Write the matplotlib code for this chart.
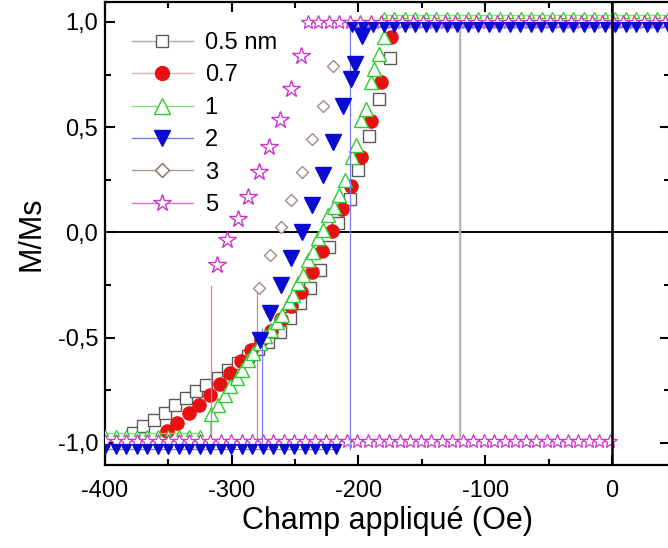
import numpy as np
import matplotlib
matplotlib.use('Agg')
import matplotlib.pyplot as plt
from matplotlib.lines import Line2D
from matplotlib.ticker import MultipleLocator, FuncFormatter

plt.rcParams['font.family'] = ['Liberation Sans', 'DejaVu Sans']

labels = ['0.5 nm', '0.7', '1', '2', '3', '5']

# ---- ascending-branch data (field in Oe, M/Ms) ----
sq_x = [-378, -370, -361, -353, -345, -336, -328, -320, -311, -303, -295, -287, -279,
        -271, -262, -254, -246, -238, -230, -223, -216, -207, -200, -192, -184, -175]
sq_y = [-0.953, -0.921, -0.889, -0.858, -0.818, -0.787, -0.755, -0.724, -0.692, -0.653,
        -0.621, -0.589, -0.555, -0.52, -0.471, -0.408, -0.336, -0.265, -0.178, -0.068,
        0.043, 0.161, 0.299, 0.456, 0.632, 0.829]

ci_x = [-351, -343, -334, -326, -317, -309, -301, -293, -285, -277, -269, -261, -253,
        -245, -237, -229, -221, -213, -206, -198, -190, -182, -174]
ci_y = [-0.945, -0.905, -0.860, -0.818, -0.771, -0.722, -0.668, -0.612, -0.558, -0.51,
        -0.47, -0.41, -0.35, -0.285, -0.19, -0.09, 0.005, 0.11, 0.22, 0.36, 0.53, 0.715, 0.93]

tu_x = [-316, -311, -305, -301, -296, -292, -287, -283, -278, -274, -269, -264, -260,
        -255, -252, -248, -244, -240, -236, -232, -228, -224, -219, -215, -211, -205,
        -202, -198, -194, -190, -188, -184, -180]
tu_y = [-0.862, -0.818, -0.771, -0.731, -0.692, -0.653, -0.605, -0.573, -0.525, -0.49,
        -0.465, -0.427, -0.392, -0.332, -0.297, -0.24, -0.202, -0.131, -0.092, -0.028,
        0.011, 0.082, 0.122, 0.18, 0.25, 0.359, 0.414, 0.532, 0.588, 0.714, 0.777, 0.85, 0.927]

td_x = [-278, -270, -261.4, -253.5, -244.8, -236.9, -227.8, -219.9, -212.5, -206.2, -202.8, -197.5]
td_y = [-0.51, -0.384, -0.250, -0.123, 0.003, 0.129, 0.272, 0.430, 0.603, 0.73, 0.80, 0.935]

di_x = [-278.3, -269.8, -261.4, -253.3, -244.8, -236.4, -228.3, -219.9]
di_y = [-0.265, -0.108, 0.027, 0.153, 0.288, 0.442, 0.600, 0.790]

st_x = [-311.9, -304.0, -295.3, -286.9, -278.5, -270.4, -261.9, -253.3, -245.6]
st_y = [-0.155, -0.036, 0.063, 0.169, 0.288, 0.406, 0.536, 0.682, 0.840]

# ---- saturated plateaus (field sweep grid, Oe) ----
field_step = 8.3
field_min = -400
field_max = 46
low_level = [-0.97, -0.975, -0.955, -1.03, -1.0, -0.99]
low_end = [None, None, -318, -212, None, 0]
high_level = [1.0, 1.0, 1.035, 0.975, 1.0, 1.0]
high_start = [None, None, -180, -205, None, -240]
drop_x = [-120, -121, None, -207, None, 0]        # descending-branch switching field
jump_x = [None, None, -317, -276, -280, -316]     # ascending-branch switching field
jump_top = [None, None, -0.86, -0.46, -0.265, -0.256]

curves_x = [sq_x, ci_x, tu_x, td_x, di_x, st_x]
curves_y = [sq_y, ci_y, tu_y, td_y, di_y, st_y]

markers = ['s', 'o', '^', 'v', 'D', '*']
edge = ['#5a5a5a', '#e81010', '#2ecc2e', '#0a0ad2', '#a38a8a', '#cc33cc']
face = ['white', '#e81010', 'white', '#0a0ad2', 'white', 'white']
linec = ['#a8a8a8', '#e8b0b0', '#7fe07f', '#7a7af2', '#b59595', '#e070e0']
ms_curve = [8, 9.5, 10, 11.5, 6, 13]
ms_row = [5, 5, 5, 6.5, 4, 10]
legend_edge = ['#5a5a5a', '#e81010', '#2ecc2e', '#0a0ad2', '#8c6a5e', '#cc33cc']
legend_ms = [9, 10, 11, 11, 7, 13]

fig = plt.figure(figsize=(6.68, 5.48), dpi=100)
ax = fig.add_axes([105 / 668, 1 - 465 / 548, 565 / 668, 463 / 548])
ax.set_xlim(-400, 45.8)
ax.set_ylim(-1.105, 1.095)

ax.axhline(0, color='black', lw=1.4, zorder=1)
ax.axvline(0, color='black', lw=1.8, zorder=6)

z_order = [2, 3, 4, 5, 2.5, 4.5]
for i in range(6):
    lw = 0.9
    # lower plateau with ascending jump
    if low_end[i] is not None:
        lo_x = np.arange(field_min, low_end[i] + 0.1, field_step)
        ax.plot(lo_x, [low_level[i]] * len(lo_x), color=linec[i], lw=lw,
                marker=markers[i], ms=ms_row[i], mec=edge[i], mfc=face[i], mew=0.9,
                zorder=z_order[i])
    if jump_x[i] is not None:
        ax.plot([jump_x[i], jump_x[i]], [low_level[i] if low_end[i] is not None else -0.99,
                                         jump_top[i]],
                color=linec[i], lw=lw, zorder=z_order[i] - 0.1)
    # upper plateau
    if high_start[i] is not None:
        hi_x = np.arange(high_start[i], field_max, field_step)
        ax.plot(hi_x, [high_level[i]] * len(hi_x), color=linec[i], lw=lw,
                marker=markers[i], ms=ms_row[i], mec=edge[i], mfc=face[i], mew=0.9,
                zorder=z_order[i])
    # descending-branch switching
    if drop_x[i] is not None:
        ax.plot([drop_x[i], drop_x[i]], [high_level[i], low_level[i]],
                color=linec[i], lw=lw, zorder=z_order[i] - 0.1)
    # ascending curve markers
    ax.plot(curves_x[i], curves_y[i], ls='none', marker=markers[i], ms=ms_curve[i],
            mec=edge[i], mfc=face[i], mew=1.0, zorder=z_order[i] + 0.05)

handles = [Line2D([0], [0], color=linec[i], lw=1.0, marker=markers[i],
                  ms=legend_ms[i], mec=legend_edge[i], mfc=face[i], mew=1.0)
           for i in range(6)]
leg = ax.legend(handles, labels, loc='upper left', bbox_to_anchor=(0.047, 0.935),
                frameon=False, fontsize=17, handlelength=2.6, handletextpad=0.5,
                labelspacing=0.44, borderaxespad=0, borderpad=0)

ax.xaxis.set_major_locator(MultipleLocator(100))
ax.xaxis.set_minor_locator(MultipleLocator(50))
ax.yaxis.set_major_locator(MultipleLocator(0.5))
ax.yaxis.set_minor_locator(MultipleLocator(0.25))
ax.yaxis.set_major_formatter(FuncFormatter(lambda v, p: f"{v:.1f}".replace('.', ',')))
ax.xaxis.set_major_formatter(FuncFormatter(lambda v, p: f"{v:.0f}"))
ax.tick_params(which='both', direction='in', top=True, right=True, width=1.5,
               labelsize=17, colors='black')
ax.tick_params(which='major', length=7)
ax.tick_params(axis='x', which='major', pad=11)
ax.tick_params(axis='y', which='major', pad=5)
ax.tick_params(which='minor', length=4)
for s in ax.spines.values():
    s.set_linewidth(1.6)

ax.set_xlabel('Champ appliqué (Oe)', fontsize=22, labelpad=3)
ax.set_ylabel('M/Ms', fontsize=22, labelpad=8)

fig.savefig('out.png', dpi=100)
